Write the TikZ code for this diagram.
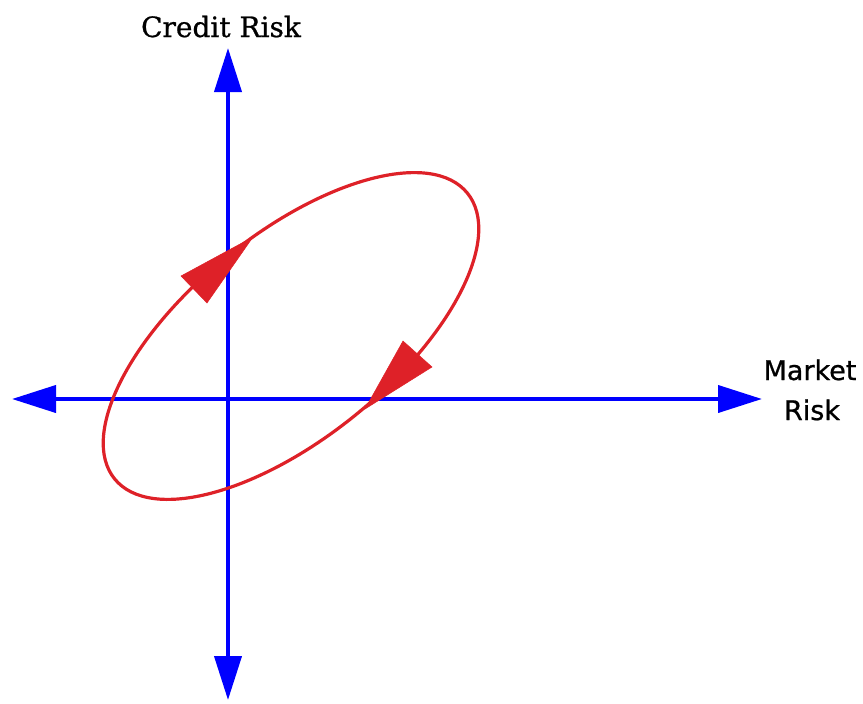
\documentclass[tikz,border=0pt]{standalone}
\usepackage{fontspec}
\setmainfont{DejaVu Serif}
\newfontfamily\serlab{DejaVu Serif}[FakeBold=0.8]
\newfontfamily\labsans{DejaVu Sans}[FakeBold=0.8]
\usetikzlibrary{arrows.meta}
\definecolor{axisblue}{RGB}{0,0,255}
\definecolor{riskred}{RGB}{222,33,40}
\begin{document}
\begin{tikzpicture}[x=1pt,y=-1pt,
  axisline/.style={draw=axisblue, line width=4pt, {Triangle[length=44pt,width=27pt]}-{Triangle[length=44pt,width=27pt]}},
  loopline/.style={draw=riskred, line width=3.2pt},
  redhead/.style={fill=riskred, draw=riskred, line width=0.5pt, line join=miter},
  serlabel/.style={font=\serlab\fontsize{28}{33}\selectfont, inner sep=0pt, anchor=base},
  sanslabel/.style={font=\labsans\fontsize{27}{32}\selectfont, inner sep=0pt, anchor=base}]
\useasboundingbox (0,0) rectangle (863,704);
% axes
\coordinate (ytop) at (228,48);
\coordinate (ybot) at (228,700);
\coordinate (xleft) at (12,399);
\coordinate (xright) at (762,399);
\draw[axisline] (ybot) -- (ytop);
\draw[axisline] (xleft) -- (xright);
% loop
\coordinate (c) at (291,336);
\draw[loopline, rotate around={39:(c)}] (c) ellipse [x radius=227, y radius=102];
% direction heads
\filldraw[redhead] (181,276) -- (207,303) -- (253,237) -- cycle;
\filldraw[redhead] (403,341) -- (432,367) -- (365,409) -- cycle;
% labels
\node[serlabel] (credit) at (221,37) {Credit Risk};
\node[sanslabel] (market) at (810,380) {Market};
\node[sanslabel] (risk) at (812,420) {Risk};
\end{tikzpicture}
\end{document}
